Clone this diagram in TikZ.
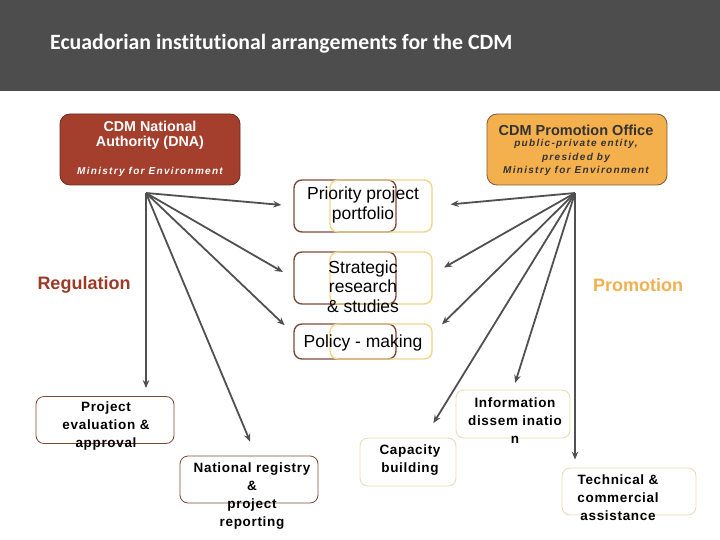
\documentclass[tikz,border=0pt]{standalone}
\usepackage{fontspec}
\setmainfont{Liberation Sans}
\newfontfamily\titlefont[Ligatures=NoCommon]{Carlito}
\newfontfamily\spacedit[LetterSpace=13]{Liberation Sans}
\newfontfamily\spacedbox[LetterSpace=5]{Liberation Sans}
\usetikzlibrary{arrows.meta,calc}
\definecolor{bar}{HTML}{4D4D4D}
\definecolor{dnared}{HTML}{A33F2C}
\definecolor{dnaedge}{HTML}{6E2A1C}
\definecolor{promo}{HTML}{F5B04E}
\definecolor{promoedge}{HTML}{7A5A3A}
\definecolor{boxbrown}{HTML}{7E4A38}
\definecolor{boxyel}{HTML}{F0D68A}
\definecolor{paleyel}{HTML}{E8DAAE}
\definecolor{regcol}{HTML}{9B3A26}
\definecolor{promcol}{HTML}{F0B050}
\definecolor{arrgray}{HTML}{505050}
\definecolor{txtdark}{HTML}{333333}
\begin{document}
\begin{tikzpicture}[x=1pt,y=-1pt,
  arr/.style={draw=arrgray, line width=1.8pt, -{Stealth[length=8pt,width=6.5pt]}},
  brownbox/.style={draw=boxbrown, line width=1.4pt, rounded corners=8pt, minimum width=102pt, inner sep=0pt},
  yelbox/.style={draw=boxyel, line width=1.4pt, rounded corners=8pt, minimum width=102pt, inner sep=0pt},
  ctext/.style={align=center, font=\fontsize{17.5}{19.5}\selectfont, inner sep=0pt},
  lowbox/.style={rounded corners=8pt, line width=0.8pt, inner sep=0pt},
  lowtext/.style={align=center, font=\spacedbox\bfseries\fontsize{13.5}{18}\selectfont, inner sep=0pt},
  header/.style={rounded corners=10pt, line width=0.8pt, minimum width=180pt, minimum height=71pt, inner sep=0pt}
]
\useasboundingbox (0,0) rectangle (720,540);
% title bar
\fill[bar] (0,0) rectangle (720,91);
\node[anchor=west, text=white, font=\titlefont\bfseries\fontsize{21.8}{24}\selectfont, inner sep=0pt] (title) at (50,44) {Ecuadorian institutional arrangements for the CDM};

% header boxes
\node[header, fill=dnared, draw=dnaedge] (dna) at (150,149.5) {};
\node[text=white, align=center, font=\bfseries\fontsize{14.3}{15}\selectfont, inner sep=0pt] (dnat) at (150,135.5) {CDM National\\Authority (DNA)};
\node[text=white, font=\spacedit\bfseries\itshape\fontsize{10}{12}\selectfont, inner sep=0pt] (dnam) at (150,172) {Ministry for Environment};

\node[header, fill=promo, draw=promoedge] (cpo) at (577,149.5) {};
\node[text=txtdark, font=\bfseries\fontsize{14.5}{15}\selectfont, inner sep=0pt] (cpot) at (576,130.5) {CDM Promotion Office};
\node[text=txtdark, align=center, font=\spacedit\bfseries\itshape\fontsize{10}{13.5}\selectfont, inner sep=0pt] (cpom) at (576,157.5) {public-private entity,\\presided by\\Ministry for Environment};

% central double boxes
\node[brownbox, minimum height=52pt] (prioL) at (345,206) {};
\node[yelbox, minimum height=52pt] (prioR) at (381,206) {};
\node[ctext] (prio) at (363,205) {Priority project\\portfolio};

\node[brownbox, minimum height=52pt] (stratL) at (345,278) {};
\node[yelbox, minimum height=52pt] (stratR) at (381,278) {};
\node[ctext] (strat) at (363,286.5) {Strategic\\research\\\& studies};

\node[brownbox, minimum height=35pt] (polL) at (345,341.5) {};
\node[yelbox, minimum height=35pt] (polR) at (381,341.5) {};
\node[ctext] (pol) at (363,343) {Policy - making};

% side labels
\node[text=regcol, font=\bfseries\fontsize{18}{20}\selectfont, inner sep=0pt] (reg) at (84,285) {Regulation};
\node[text=promcol, font=\bfseries\fontsize{18}{20}\selectfont, inner sep=0pt] (prm) at (638,285) {Promotion};

% lower boxes
\node[lowbox, draw=boxbrown, minimum width=138pt, minimum height=47pt] (evalb) at (105,420) {};
\node[lowtext] (eval) at (106,426) {Project\\evaluation \&\\approval};

\node[lowbox, draw=boxbrown, minimum width=138pt, minimum height=47pt] (natb) at (249,479.5) {};
\node[lowtext] (nat) at (252,496) {National registry\\\&\\project\\reporting};

\node[lowbox, draw=paleyel, minimum width=96pt, minimum height=48pt] (capb) at (408,462) {};
\node[lowtext] (cap) at (410,460) {Capacity\\building};

\node[lowbox, draw=paleyel, minimum width=114pt, minimum height=48pt] (infob) at (513,414) {};
\node[lowtext] (info) at (515,421) {Information\\dissem inatio\\n};

\node[lowbox, draw=paleyel, minimum width=134pt, minimum height=47pt] (techb) at (629,491.5) {};
\node[lowtext] (tech) at (618,498) {Technical \&\\commercial\\assistance};

% hubs
\coordinate (hubL) at (146,193);
\coordinate (hubR) at (575,193);

% regulation arrows
\draw[arr, shorten >=12pt] (hubL) -- (prioL.west);
\draw[arr, shorten >=12pt] (hubL) -- (stratL.west);
\draw[arr, shorten >=12pt] (hubL) -- ($(polL.west)+(0,-8)$);
\draw[arr, shorten >=8pt] (hubL) -- (hubL |- evalb.north);
\draw[arr, shorten >=15pt] (hubL) -- ($(natb.north)+(7,0)$);

% promotion arrows
\draw[arr, shorten >=18pt] (hubR) -- (prioR.east);
\draw[arr, shorten >=13pt] (hubR) -- ($(stratR.east)+(0,-4)$);
\draw[arr, shorten >=13pt] (hubR) -- ($(polR.east)+(0,-8)$);
\draw[arr, shorten >=7pt] (hubR) -- (infob.north);
\draw[arr, shorten >=17pt] (hubR) -- ($(capb.north)+(16.5,0)$);
\draw[arr, shorten >=8pt] (hubR) -- (hubR |- techb.north);
\end{tikzpicture}
\end{document}
